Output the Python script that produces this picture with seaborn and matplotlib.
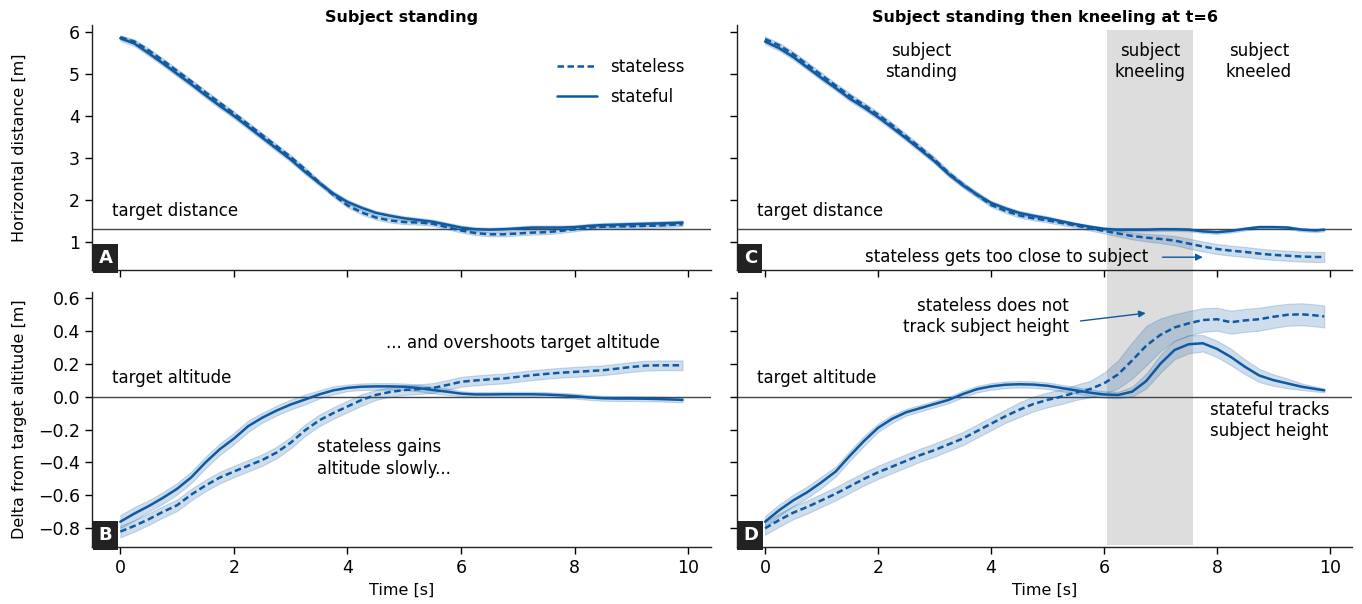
import numpy as np
import pandas as pd
import matplotlib.pyplot as plt
import seaborn as sns
from matplotlib.lines import Line2D
from matplotlib.patches import Rectangle
from matplotlib.transforms import blended_transform_factory

# --- Data ---
time = [0, 0.25, 0.5, 0.75, 1.0, 1.25, 1.5, 1.75, 2.0, 2.25, 2.5, 2.75, 3.0, 3.25,
        3.5, 3.75, 4.0, 4.25, 4.5, 4.75, 5.0, 5.25, 5.5, 5.75, 6.0, 6.25, 6.5, 6.75,
        7.0, 7.25, 7.5, 7.75, 8.0, 8.25, 8.5, 8.75, 9.0, 9.25, 9.5, 9.75, 9.9]

# Panel A: horizontal distance, subject standing
dist_stand_stateful = [5.85, 5.72, 5.49, 5.25, 5.00, 4.75, 4.49, 4.24, 4.00, 3.74, 3.48,
                       3.22, 2.96, 2.67, 2.40, 2.15, 1.95, 1.81, 1.69, 1.62, 1.56, 1.52,
                       1.48, 1.41, 1.34, 1.30, 1.29, 1.30, 1.32, 1.34, 1.34, 1.34, 1.35,
                       1.38, 1.40, 1.41, 1.42, 1.43, 1.44, 1.45, 1.46]
dist_stand_stateless = [5.87, 5.77, 5.56, 5.32, 5.07, 4.82, 4.56, 4.31, 4.06, 3.80, 3.54,
                        3.28, 3.02, 2.73, 2.42, 2.12, 1.87, 1.70, 1.58, 1.51, 1.47, 1.46,
                        1.43, 1.35, 1.27, 1.21, 1.18, 1.18, 1.20, 1.22, 1.23, 1.26, 1.30,
                        1.34, 1.36, 1.37, 1.37, 1.38, 1.39, 1.41, 1.42]
dist_stand_stateful_ci = [0.06, 0.06, 0.06, 0.06, 0.06, 0.06, 0.06, 0.06, 0.06, 0.06, 0.06,
                          0.06, 0.06, 0.06, 0.06, 0.06, 0.05, 0.05, 0.05, 0.05, 0.05, 0.05,
                          0.05, 0.05, 0.05, 0.05, 0.05, 0.05, 0.05, 0.05, 0.05, 0.05, 0.05,
                          0.05, 0.05, 0.05, 0.05, 0.05, 0.05, 0.05, 0.05]
dist_stand_stateless_ci = [0.05, 0.05, 0.05, 0.05, 0.05, 0.05, 0.05, 0.05, 0.05, 0.05, 0.05,
                           0.05, 0.05, 0.05, 0.05, 0.05, 0.05, 0.05, 0.05, 0.05, 0.05, 0.05,
                           0.05, 0.05, 0.05, 0.05, 0.05, 0.05, 0.05, 0.05, 0.05, 0.05, 0.05,
                           0.05, 0.05, 0.05, 0.05, 0.05, 0.05, 0.05, 0.05]

# Panel B: altitude delta, subject standing
alt_stand_stateful = [-0.76, -0.71, -0.665, -0.615, -0.56, -0.49, -0.40, -0.32, -0.255,
                      -0.18, -0.128, -0.085, -0.048, -0.018, 0.013, 0.038, 0.053, 0.06,
                      0.062, 0.062, 0.06, 0.052, 0.04, 0.03, 0.018, 0.013, 0.013, 0.014,
                      0.014, 0.014, 0.012, 0.008, 0.003, -0.005, -0.01, -0.012, -0.012,
                      -0.013, -0.015, -0.018, -0.02]
alt_stand_stateless = [-0.82, -0.785, -0.745, -0.70, -0.66, -0.595, -0.54, -0.492, -0.455,
                       -0.42, -0.385, -0.34, -0.28, -0.205, -0.145, -0.10, -0.06, -0.02,
                       0.01, 0.028, 0.04, 0.045, 0.052, 0.07, 0.09, 0.098, 0.105, 0.11,
                       0.12, 0.13, 0.138, 0.145, 0.15, 0.155, 0.16, 0.17, 0.18, 0.188,
                       0.19, 0.19, 0.19]
alt_stand_stateful_ci = [0.04, 0.04, 0.035, 0.035, 0.035, 0.035, 0.035, 0.035, 0.035, 0.035,
                         0.03, 0.03, 0.03, 0.03, 0.025, 0.025, 0.02, 0.02, 0.02, 0.02, 0.02,
                         0.02, 0.02, 0.02, 0.015, 0.015, 0.015, 0.015, 0.015, 0.015, 0.015,
                         0.015, 0.015, 0.015, 0.015, 0.015, 0.015, 0.015, 0.015, 0.015, 0.015]
alt_stand_stateless_ci = [0.035, 0.035, 0.035, 0.035, 0.035, 0.035, 0.035, 0.035, 0.035,
                          0.035, 0.035, 0.035, 0.035, 0.035, 0.035, 0.035, 0.035, 0.035,
                          0.03, 0.03, 0.03, 0.03, 0.03, 0.03, 0.03, 0.03, 0.03, 0.03, 0.03,
                          0.03, 0.03, 0.03, 0.03, 0.03, 0.03, 0.03, 0.03, 0.03, 0.03, 0.03, 0.03]

# Panel C: horizontal distance, subject kneeling at t=6
dist_kneel_stateful = [5.77, 5.61, 5.40, 5.15, 4.90, 4.66, 4.41, 4.20, 3.97, 3.72, 3.46,
                       3.19, 2.92, 2.61, 2.35, 2.13, 1.93, 1.80, 1.69, 1.62, 1.56, 1.49,
                       1.42, 1.36, 1.31, 1.29, 1.29, 1.29, 1.30, 1.30, 1.29, 1.25, 1.23,
                       1.26, 1.31, 1.35, 1.35, 1.34, 1.29, 1.27, 1.29]
dist_kneel_stateless = [5.83, 5.68, 5.47, 5.22, 4.97, 4.72, 4.48, 4.26, 4.03, 3.78, 3.51,
                        3.24, 2.96, 2.64, 2.37, 2.12, 1.88, 1.74, 1.63, 1.56, 1.51, 1.45,
                        1.39, 1.32, 1.26, 1.20, 1.14, 1.10, 1.07, 1.03, 0.96, 0.89, 0.83,
                        0.79, 0.76, 0.72, 0.69, 0.67, 0.65, 0.64, 0.64]
dist_kneel_stateful_ci = [0.06, 0.06, 0.06, 0.06, 0.06, 0.06, 0.06, 0.06, 0.06, 0.06, 0.06,
                          0.06, 0.06, 0.06, 0.06, 0.06, 0.05, 0.05, 0.05, 0.05, 0.05, 0.04,
                          0.04, 0.04, 0.04, 0.04, 0.04, 0.04, 0.04, 0.04, 0.04, 0.04, 0.04,
                          0.04, 0.04, 0.04, 0.04, 0.04, 0.04, 0.04, 0.04]
dist_kneel_stateless_ci = [0.06, 0.06, 0.06, 0.06, 0.06, 0.06, 0.06, 0.06, 0.06, 0.06, 0.06,
                           0.06, 0.06, 0.06, 0.06, 0.06, 0.05, 0.05, 0.05, 0.05, 0.05, 0.05,
                           0.05, 0.05, 0.06, 0.07, 0.08, 0.09, 0.10, 0.11, 0.12, 0.12, 0.12,
                           0.12, 0.12, 0.12, 0.12, 0.12, 0.12, 0.12, 0.12]

# Panel D: altitude delta, subject kneeling at t=6
alt_kneel_stateful = [-0.76, -0.69, -0.63, -0.58, -0.52, -0.455, -0.36, -0.27, -0.19, -0.135,
                      -0.095, -0.07, -0.045, -0.02, 0.015, 0.045, 0.062, 0.072, 0.075, 0.073,
                      0.066, 0.052, 0.038, 0.024, 0.013, 0.01, 0.03, 0.095, 0.20, 0.283,
                      0.318, 0.324, 0.29, 0.24, 0.18, 0.128, 0.10, 0.08, 0.06, 0.046, 0.038]
alt_kneel_stateless = [-0.80, -0.75, -0.705, -0.67, -0.63, -0.59, -0.545, -0.50, -0.46,
                       -0.425, -0.39, -0.355, -0.325, -0.29, -0.255, -0.21, -0.165, -0.12,
                       -0.08, -0.045, -0.02, 0.0, 0.025, 0.045, 0.08, 0.135, 0.22, 0.31,
                       0.375, 0.42, 0.445, 0.465, 0.47, 0.452, 0.463, 0.47, 0.485, 0.497,
                       0.50, 0.493, 0.487]
alt_kneel_stateful_ci = [0.035, 0.035, 0.035, 0.035, 0.035, 0.03, 0.03, 0.03, 0.025, 0.025,
                         0.02, 0.02, 0.02, 0.02, 0.02, 0.02, 0.02, 0.02, 0.02, 0.02, 0.02,
                         0.02, 0.02, 0.02, 0.02, 0.02, 0.03, 0.045, 0.055, 0.056, 0.055,
                         0.05, 0.05, 0.05, 0.045, 0.04, 0.035, 0.03, 0.02, 0.015, 0.012]
alt_kneel_stateless_ci = [0.04, 0.04, 0.04, 0.04, 0.04, 0.04, 0.04, 0.04, 0.04, 0.04, 0.04,
                          0.04, 0.04, 0.04, 0.04, 0.04, 0.04, 0.04, 0.045, 0.045, 0.045,
                          0.045, 0.046, 0.05, 0.065, 0.085, 0.11, 0.12, 0.1, 0.08, 0.075,
                          0.072, 0.07, 0.07, 0.07, 0.07, 0.068, 0.067, 0.067, 0.067, 0.067]

target_distance = 1.3
target_altitude = 0.0
kneel_start, kneel_end = 6.05, 7.58

BLUE = "#0d59a3"

sns.set_theme(style="ticks")
plt.rcParams["font.family"] = ["DejaVu Sans"]
plt.rcParams["text.color"] = "black"
plt.rcParams["axes.labelcolor"] = "black"
plt.rcParams["xtick.color"] = "black"
plt.rcParams["ytick.color"] = "black"
plt.rcParams["axes.edgecolor"] = "#222222"
plt.rcParams["axes.linewidth"] = 1.0
plt.rcParams["xtick.major.width"] = 1.0
plt.rcParams["ytick.major.width"] = 1.0
plt.rcParams["xtick.major.size"] = 5
plt.rcParams["ytick.major.size"] = 5
plt.rcParams["xtick.labelsize"] = 12.5
plt.rcParams["ytick.labelsize"] = 12.5

fig = plt.figure(figsize=(13.62, 6.04), dpi=100)
ax_a = fig.add_axes([0.0675, 0.553, 0.4545, 0.406])
ax_c = fig.add_axes([0.541, 0.553, 0.452, 0.406], sharey=ax_a)
ax_b = fig.add_axes([0.0675, 0.094, 0.4545, 0.423], sharex=ax_a)
ax_d = fig.add_axes([0.541, 0.094, 0.452, 0.423], sharex=ax_c, sharey=ax_b)

DASHES = {"stateless": (2.6, 1.4), "stateful": ""}


def draw_panel(ax, less, less_ci, ful, ful_ci):
    n = len(time)
    df = pd.DataFrame({
        "t": time + time,
        "value": less + ful,
        "model": ["stateless"] * n + ["stateful"] * n,
    })
    for vals, ci in [(less, less_ci), (ful, ful_ci)]:
        v = np.array(vals)
        c = np.array(ci)
        ax.fill_between(time, v - c, v + c, color=BLUE, alpha=0.2, lw=0.8, zorder=2)
    sns.lineplot(data=df, x="t", y="value", style="model", dashes=DASHES,
                 color=BLUE, lw=1.8, errorbar=None, legend=False, ax=ax, zorder=3)
    ax.set_xlabel("")
    ax.set_ylabel("")


draw_panel(ax_a, dist_stand_stateless, dist_stand_stateless_ci,
           dist_stand_stateful, dist_stand_stateful_ci)
draw_panel(ax_c, dist_kneel_stateless, dist_kneel_stateless_ci,
           dist_kneel_stateful, dist_kneel_stateful_ci)
draw_panel(ax_b, alt_stand_stateless, alt_stand_stateless_ci,
           alt_stand_stateful, alt_stand_stateful_ci)
draw_panel(ax_d, alt_kneel_stateless, alt_kneel_stateless_ci,
           alt_kneel_stateful, alt_kneel_stateful_ci)

for ax in (ax_a, ax_b, ax_c, ax_d):
    ax.set_facecolor("none")
    sns.despine(ax=ax)
    ax.set_xlim(-0.5, 10.4)
    ax.set_xticks([0, 2, 4, 6, 8, 10])

for ax in (ax_a, ax_c):
    ax.axhline(target_distance, color="#444444", lw=1.0, zorder=1)
    ax.set_ylim(0.33, 6.17)
    ax.set_yticks([1, 2, 3, 4, 5, 6])
    ax.tick_params(labelbottom=False)
    ax.text(-0.15, 1.73, "target distance", fontsize=12, va="center", ha="left")

for ax in (ax_b, ax_d):
    ax.axhline(target_altitude, color="#444444", lw=1.0, zorder=1)
    ax.set_ylim(-0.915, 0.637)
    ax.set_yticks([-0.8, -0.6, -0.4, -0.2, 0.0, 0.2, 0.4, 0.6])
    ax.set_xlabel("Time [s]", fontsize=11.5)
    ax.text(-0.15, 0.113, "target altitude", fontsize=12, va="center", ha="left")

ax_c.tick_params(labelleft=False)
ax_d.tick_params(labelleft=False)

ax_a.set_ylabel("Horizontal distance [m]", fontsize=11.5)
ax_b.set_ylabel("Delta from target altitude [m]", fontsize=11.5)
ax_a.yaxis.set_label_coords(-0.105, 0.5)
ax_b.yaxis.set_label_coords(-0.105, 0.5)

ax_a.set_title("Subject standing", fontsize=11.5, fontweight="bold", pad=2)
ax_c.set_title("Subject standing then kneeling at t=6", fontsize=11.5, fontweight="bold", pad=2)

# kneeling period, spanning both right-hand panels
trans = blended_transform_factory(ax_c.transData, ax_c.transAxes)
ax_c.add_patch(Rectangle((kneel_start, -1.122), kneel_end - kneel_start, 2.102,
                         transform=trans, facecolor="#dddddd", edgecolor="none",
                         clip_on=False, zorder=0))

# legend
handles = [Line2D([], [], color=BLUE, lw=1.8, dashes=DASHES["stateless"]),
           Line2D([], [], color=BLUE, lw=1.8)]
ax_a.legend(handles, ["stateless", "stateful"], loc="upper right", frameon=False,
            fontsize=12, handlelength=2.4, labelspacing=0.7, bbox_to_anchor=(0.982, 0.925))

# annotations
ax_b.text(4.67, 0.326, "... and overshoots target altitude", fontsize=12, va="center")
ax_b.text(3.47, -0.374, "stateless gains\naltitude slowly...", fontsize=12, va="center",
          linespacing=1.25)
for x, label in [(2.76, "subject\nstanding"), (6.82, "subject\nkneeling"), (8.74, "subject\nkneeled")]:
    ax_c.text(x, 5.30, label, fontsize=12, ha="center", va="center", linespacing=1.25)
ax_c.annotate("stateless gets too close to subject", xy=(7.75, 0.635), xytext=(6.78, 0.635),
              fontsize=12, ha="right", va="center",
              arrowprops=dict(arrowstyle="-|>", color=BLUE, lw=1.0, shrinkA=8, shrinkB=0,
                              mutation_scale=10))
ax_d.annotate("stateless does not\ntrack subject height", xy=(6.74, 0.507), xytext=(5.38, 0.487),
              fontsize=12, ha="right", va="center", linespacing=1.25,
              arrowprops=dict(arrowstyle="-|>", color=BLUE, lw=1.0, shrinkA=6, shrinkB=0,
                              mutation_scale=10, relpos=(1.0, 0.35)))
ax_d.text(7.88, -0.146, "stateful tracks\nsubject height", fontsize=12, va="center",
          linespacing=1.25)

# panel letters
for ax, letter in [(ax_a, "A"), (ax_b, "B"), (ax_c, "C"), (ax_d, "D")]:
    ax.text(0.022, 0.047, letter, transform=ax.transAxes, color="white", fontsize=13,
            fontweight="bold", ha="center", va="center", zorder=5,
            bbox=dict(boxstyle="square,pad=0.3", facecolor="#222222", edgecolor="none"))

fig.savefig("out.png", dpi=100)
